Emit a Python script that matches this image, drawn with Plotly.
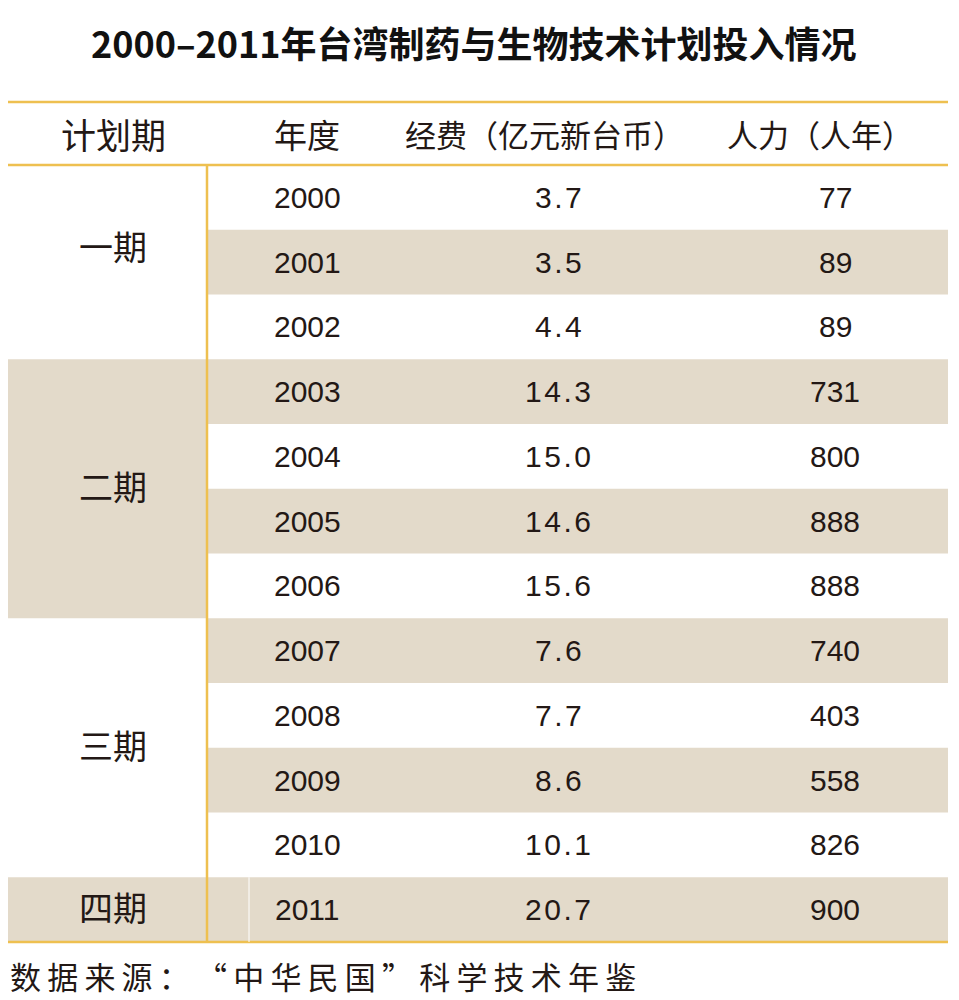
import plotly.graph_objects as go

# table data
title = "2000\u20132011年台湾制药与生物技术计划投入情况"
headers = ["计划期", "年度", "经费（亿元新台币）", "人力（人年）"]
years = ["2000", "2001", "2002", "2003", "2004", "2005", "2006",
         "2007", "2008", "2009", "2010", "2011"]
funding = ["3.7", "3.5", "4.4", "14.3", "15.0", "14.6", "15.6",
           "7.6", "7.7", "8.6", "10.1", "20.7"]
manpower = ["77", "89", "89", "731", "800", "888", "888",
            "740", "403", "558", "826", "900"]
periods = ["一期", "二期", "三期", "四期"]
period_rows = [3, 4, 4, 1]
source = "数据来源：“中华民国”科学技术年鉴"

# layout (pixels); page body has an 8px margin, so axes are offset by it
W, H = 959, 1000
OFF = 8
x_left, x_div, x_right = 3, 207, 948
y_top, y_head = 102, 165
row_h = 64.75
shade = "#E3DACA"
line_c = "#EEC050"
txt_c = "#231815"
num_font = "Liberation Sans, Noto Sans CJK SC"
cjk_font = "Noto Sans CJK SC"

fig = go.Figure()
shapes = []
ann = []

def row_y(i):
    return y_head + i * row_h

# alternate row shading
for i in range(len(years)):
    if i % 2 == 1:
        shapes.append(dict(type="rect", x0=x_div, x1=x_right, y0=row_y(i), y1=row_y(i + 1),
                           fillcolor=shade, line_width=0, layer="below"))

# period blocks
start = 0
for k, (p, n) in enumerate(zip(periods, period_rows)):
    y0, y1 = row_y(start), row_y(start + n)
    if k % 2 == 1:
        shapes.append(dict(type="rect", x0=x_left, x1=x_div, y0=y0, y1=y1,
                           fillcolor=shade, line_width=0, layer="below"))
    yc = (y0 + y1) / 2 - (17 if k == 0 else 3)
    ann.append(dict(x=113, y=yc, text=p, showarrow=False,
                    font=dict(family=cjk_font, size=34, color=txt_c)))
    start += n

# rules
for yy in (y_top, y_head, row_y(12)):
    shapes.append(dict(type="line", x0=x_left, x1=x_right, y0=yy, y1=yy,
                       line=dict(color=line_c, width=2.5)))
shapes.append(dict(type="line", x0=x_div, x1=x_div, y0=y_head, y1=row_y(12),
                   line=dict(color=line_c, width=2.5)))
shapes.append(dict(type="line", x0=249, x1=249, y0=row_y(11), y1=row_y(12),
                   line=dict(color="white", width=1)))

# header
head_x = [113, 307, 544, 820]
head_sz = [35, 33, 31, 31]
for hx, h, s in zip(head_x, headers, head_sz):
    ann.append(dict(x=hx, y=(y_top + y_head) / 2, text=h, showarrow=False,
                    font=dict(family=cjk_font, size=s, color=txt_c)))

# body
for i in range(len(years)):
    yc = (row_y(i) + row_y(i + 1)) / 2
    ann.append(dict(x=307, y=yc, text=years[i], showarrow=False,
                    font=dict(family=num_font, size=30, color=txt_c)))
    ann.append(dict(x=558, y=yc, text="\u200a".join(funding[i]), showarrow=False,
                    font=dict(family=num_font, size=30, color=txt_c)))
    ann.append(dict(x=835, y=yc, text=manpower[i], showarrow=False,
                    font=dict(family=num_font, size=30, color=txt_c)))

ann.append(dict(x=474, y=42, text="<b>" + title + "</b>", showarrow=False,
                font=dict(family=cjk_font, size=36, color="#111111")))
ann.append(dict(x=8, y=975, text="\u2009".join(source), showarrow=False, xanchor="left",
                font=dict(family=cjk_font, size=31, color=txt_c)))

fig.update_layout(
    width=W, height=H,
    margin=dict(l=0, r=0, t=0, b=0),
    paper_bgcolor="white", plot_bgcolor="white",
    xaxis=dict(range=[OFF, W + OFF], visible=False, fixedrange=True),
    yaxis=dict(range=[H + OFF, OFF], visible=False, fixedrange=True),
    shapes=shapes, annotations=ann, showlegend=False,
)

fig.write_html("out.html")
